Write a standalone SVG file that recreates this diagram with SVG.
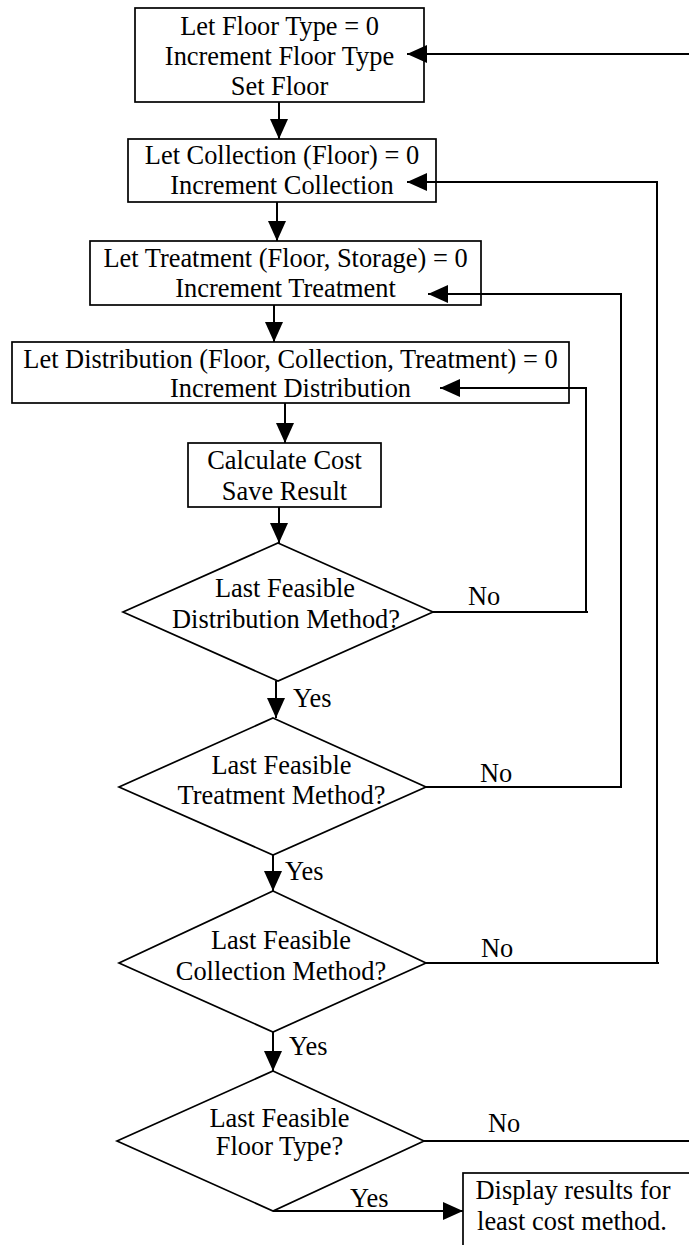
<svg xmlns="http://www.w3.org/2000/svg" width="689" height="1245" viewBox="0 0 689 1245">
<style>
text{font-family:"Liberation Serif","Times New Roman",serif;font-size:26.4px;fill:#000}
.c{text-anchor:middle}
.box{fill:#fff;stroke:#000;stroke-width:1.7}
.con{fill:none;stroke:#000;stroke-width:2}
</style>
<defs>
<marker id="ah" markerUnits="userSpaceOnUse" markerWidth="20" markerHeight="18" refX="20" refY="9" orient="auto" viewBox="0 0 20 18">
<path d="M0,0 L20,9 L0,18 z" fill="#000"/>
</marker>
</defs>
<rect width="689" height="1245" fill="#fff"/>
<g id="n1">
<rect class="box" x="135" y="8" width="289" height="94"/>
<text class="c" x="279.5" y="34.5">Let Floor Type = 0</text>
<text class="c" x="279.5" y="64.5">Increment Floor Type</text>
<text class="c" x="279.5" y="95">Set Floor</text>
</g>
<g id="n2">
<rect class="box" x="128" y="139" width="308" height="63"/>
<text class="c" x="282" y="163.5">Let Collection (Floor) = 0</text>
<text class="c" x="282" y="193.5">Increment Collection</text>
</g>
<g id="n3">
<rect class="box" x="90" y="241" width="391" height="64"/>
<text class="c" x="285.5" y="267">Let Treatment (Floor, Storage) = 0</text>
<text class="c" x="285.5" y="297">Increment Treatment</text>
</g>
<g id="n4">
<rect class="box" x="12" y="342" width="557" height="61"/>
<text class="c" x="290.5" y="368">Let Distribution (Floor, Collection, Treatment) = 0</text>
<text class="c" x="290.5" y="397">Increment Distribution</text>
</g>
<g id="n5">
<rect class="box" x="188" y="443" width="193" height="64"/>
<text class="c" x="284.5" y="469">Calculate Cost</text>
<text class="c" x="284.5" y="500">Save Result</text>
</g>
<g id="d1">
<polygon class="box" points="278,543 433,612 278,681 123,612"/>
<text class="c" x="285" y="597">Last Feasible</text>
<text class="c" x="286" y="628">Distribution Method?</text>
</g>
<g id="d2">
<polygon class="box" points="273,718 426,787 273,855 119,787"/>
<text class="c" x="281.5" y="774">Last Feasible</text>
<text class="c" x="281.5" y="804">Treatment Method?</text>
</g>
<g id="d3">
<polygon class="box" points="273,891 426,963 273,1032 119,963"/>
<text class="c" x="281" y="949">Last Feasible</text>
<text class="c" x="281" y="979.5">Collection Method?</text>
</g>
<g id="d4">
<polygon class="box" points="273,1071 424,1141 273,1211 117,1141"/>
<text class="c" x="279.5" y="1127">Last Feasible</text>
<text class="c" x="279.5" y="1155">Floor Type?</text>
</g>
<g id="n6">
<rect class="box" x="463" y="1173" width="260" height="100"/>
<text class="c" x="573" y="1198.5">Display results for</text>
<text class="c" x="572" y="1230">least cost method.</text>
</g>
<g id="connectors">
<path class="con" d="M279,102 V139" marker-end="url(#ah)"/>
<path class="con" d="M277,202 V241" marker-end="url(#ah)"/>
<path class="con" d="M274,305 V342" marker-end="url(#ah)"/>
<path class="con" d="M285,403 V443" marker-end="url(#ah)"/>
<path class="con" d="M279,507 V543" marker-end="url(#ah)"/>
<path class="con" d="M276,681 V718" marker-end="url(#ah)"/>
<path class="con" d="M273,855 V891" marker-end="url(#ah)"/>
<path class="con" d="M273,1032 V1071" marker-end="url(#ah)"/>
<path class="con" d="M273,1211 H463" marker-end="url(#ah)"/>
<path class="con" d="M433,612 H588 M586,612 V388 H440" marker-end="url(#ah)"/>
<path class="con" d="M426,787 H622 M621,787 V294 H428" marker-end="url(#ah)"/>
<path class="con" d="M426,963 H659 M657,963 V182 H407" marker-end="url(#ah)"/>
<path class="con" d="M424,1141 H689"/>
<path class="con" d="M689,54 H407" marker-end="url(#ah)"/>
<text x="293" y="707">Yes</text>
<text x="468" y="605">No</text>
<text x="285" y="880">Yes</text>
<text x="480" y="782">No</text>
<text x="289" y="1055">Yes</text>
<text x="481" y="957">No</text>
<text x="488" y="1132">No</text>
<text x="350" y="1207">Yes</text>
</g>
</svg>
